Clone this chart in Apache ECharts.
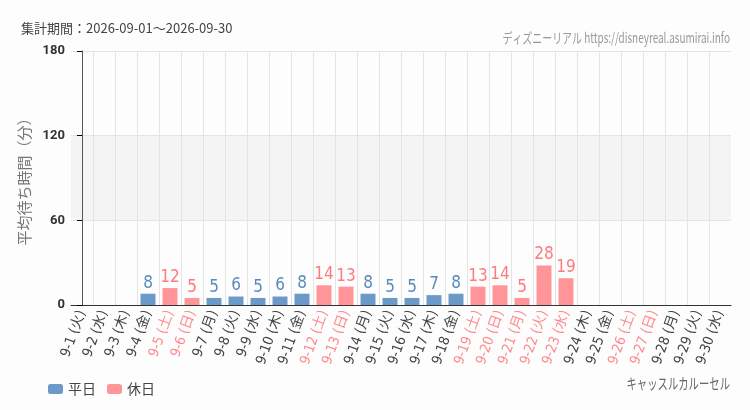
<!DOCTYPE html>
<html><head><meta charset="utf-8">
<script src="https://cdn.jsdelivr.net/npm/echarts@6/dist/echarts.min.js"></script>
<style>html,body{margin:0;padding:0;background:#fcfdfc;}#c{width:750px;height:410px;}</style>
</head><body><div id="c"></div>
<script>
var categories = ['9-1 (火)','9-2 (水)','9-3 (木)','9-4 (金)','9-5 (土)','9-6 (日)','9-7 (月)','9-8 (火)','9-9 (水)','9-10 (木)','9-11 (金)','9-12 (土)','9-13 (日)','9-14 (月)','9-15 (火)','9-16 (水)','9-17 (木)','9-18 (金)','9-19 (土)','9-20 (日)','9-21 (月)','9-22 (火)','9-23 (水)','9-24 (木)','9-25 (金)','9-26 (土)','9-27 (日)','9-28 (月)','9-29 (火)','9-30 (水)'];
var holidayFlags = [0,0,0,0,1,1,0,0,0,0,0,1,1,0,0,0,0,0,1,1,1,1,1,0,0,1,1,0,0,0];
var waitValues = [null,null,null,8,12,5,5,6,5,6,8,14,13,8,5,5,7,8,13,14,5,28,19,null,null,null,null,null,null,null];
var yTicks = [0,60,120,180];

var weekdayData = waitValues.map(function(v,i){return holidayFlags[i]?null:v;});
var holidayData = waitValues.map(function(v,i){return holidayFlags[i]?v:null;});

var condensed = '"DejaVu Sans","Noto Sans CJK JP",sans-serif';
var jp = '"Noto Sans CJK JP",sans-serif';
var chart = echarts.init(document.getElementById('c'));
chart.setOption({
  backgroundColor: '#fcfdfc',
  animation: false,
  title: [
    {text: '集計期間：2026-09-01～2026-09-30', left: 16, top: 17, textStyle: {fontSize: 13, fontWeight: 'normal', color: '#444', fontFamily: jp}}
  ],
  graphic: [
    {type: 'text', right: 20, top: 31, scaleX: 0.71, style: {text: 'ディズニーリアル https://disneyreal.asumirai.info', fontSize: 14, fill: '#999', fontFamily: jp}},
    {type: 'text', right: 20, top: 376, scaleX: 0.69, style: {text: 'キャッスルカルーセル', fontSize: 15, fill: '#666', fontFamily: jp}}
  ],
  legend: {
    left: 43, top: 377, itemWidth: 15, itemHeight: 10, itemGap: 11,
    textStyle: {fontSize: 14, color: '#444', fontFamily: jp},
    data: ['平日','休日']
  },
  grid: {left: 71, right: 19, top: 51, bottom: 105},
  xAxis: [{
    type: 'category', data: categories,
    axisLine: {lineStyle: {color: '#333', width: 1}},
    axisTick: {alignWithLabel: true, length: 4, lineStyle: {color: '#000'}},
    axisLabel: {
      rotate: 70, interval: 0, fontSize: 14, margin: 6,
      fontWeight: 'condensed',
      fontFamily: condensed,
      color: function(v, i){ return holidayFlags[categories.indexOf(v)] ? '#ff8a8e' : '#444'; }
    },
    splitLine: {show: false}
  },{
    type: 'value', min: -0.5, max: 29.5, interval: 1, position: 'bottom',
    axisLine: {show: false}, axisTick: {show: false}, axisLabel: {show: false},
    splitLine: {show: true, showMinLine: false, showMaxLine: false, lineStyle: {color: '#e4e4e4', width: 1}}
  }],
  yAxis: {
    type: 'value', min: yTicks[0], max: yTicks[yTicks.length-1], interval: 60,
    name: '平均待ち時間（分）', nameLocation: 'middle', nameGap: 36,
    nameTextStyle: {fontSize: 15, color: '#777', fontFamily: jp},
    axisLine: {show: true, lineStyle: {color: '#555'}},
    axisTick: {show: true, length: 5, lineStyle: {color: '#000'}},
    axisLabel: {fontSize: 13, color: '#333', fontWeight: 'bold', margin: 6, fontFamily: 'Roboto,sans-serif'},
    splitLine: {lineStyle: {color: '#e4e4e4'}},
    splitArea: {show: true, areaStyle: {color: ['rgba(255,255,255,0)','#f4f4f4','rgba(255,255,255,0)']}}
  },
  series: [
    {name: '平日', type: 'bar', data: weekdayData, barWidth: '68%', barGap: '-100%', xAxisIndex: 0,
     itemStyle: {color: '#6b9ac8'},
     label: {show: true, position: 'top', distance: 2, fontSize: 17, fontWeight: 'condensed', color: '#5a8abd', fontFamily: condensed}},
    {name: '休日', type: 'bar', data: holidayData, barWidth: '68%', barGap: '-100%', xAxisIndex: 0,
     itemStyle: {color: '#ff9599'},
     label: {show: true, position: 'top', distance: 2, fontSize: 17, fontWeight: 'condensed', color: '#ff7a80', fontFamily: condensed}}
  ]
});
</script></body></html>
